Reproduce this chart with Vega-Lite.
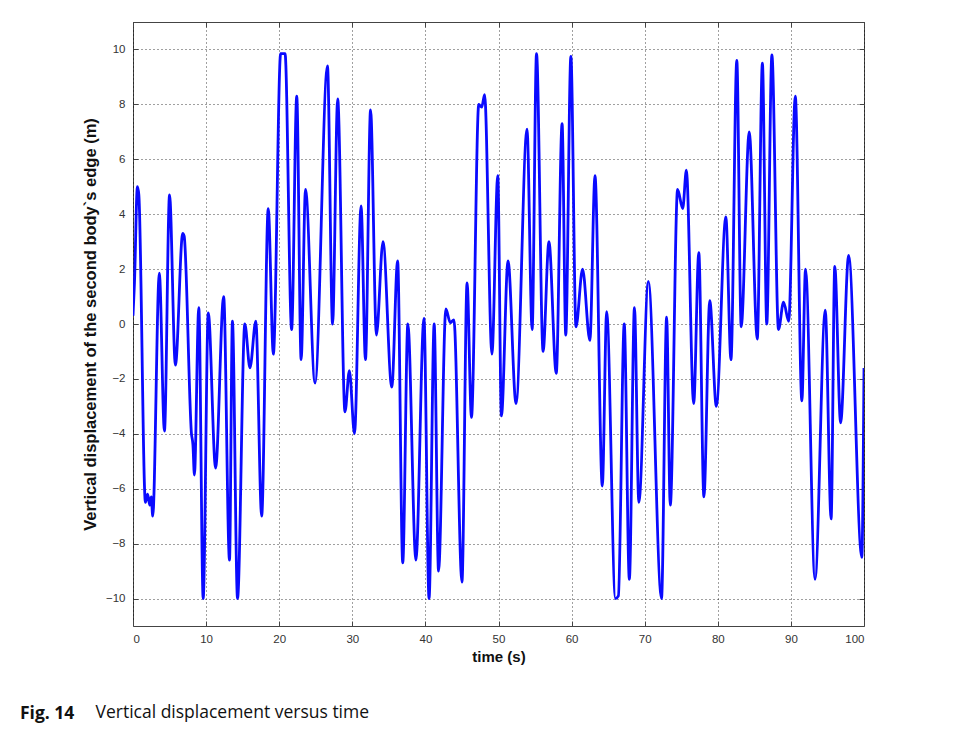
{
  "$schema": "https://vega.github.io/schema/vega-lite/v6.json",
  "autosize": {"type": "none"},
  "width": 731,
  "height": 604,
  "padding": {"left": 133, "top": 22, "right": 97, "bottom": 109},
  "background": "white",
  "config": {
    "view": {"stroke": "#444444", "strokeWidth": 1},
    "font": "Liberation Sans",
    "axis": {
      "domain": false,
      "tickColor": "#444444",
      "tickSize": -5,
      "labelFont": "Liberation Sans",
      "labelFontSize": 11.5,
      "labelColor": "#333333",
      "titleFont": "Liberation Sans",
      "titleColor": "#111111",
      "titleFontWeight": "bold",
      "gridColor": "#000000",
      "gridDash": [1, 3],
      "gridOpacity": 0.75,
      "gridWidth": 1
    }
  },
  "title": {
    "text": "Fig. 14",
    "orient": "bottom",
    "anchor": "start",
    "frame": "group",
    "dx": -113,
    "offset": -16,
    "font": "Open Sans",
    "fontSize": 17.5,
    "fontWeight": "bold",
    "color": "#111111"
  },
  "data": {
    "values": [
      {"t": 0, "v": 0.3}, {"t": 0.2, "v": 1.5}, {"t": 0.6, "v": 5.0}, {"t": 0.8, "v": 4.7},
      {"t": 1.7, "v": -6.5}, {"t": 2.0, "v": -6.2}, {"t": 2.3, "v": -6.6}, {"t": 2.5, "v": -6.3}, {"t": 2.7, "v": -7.0},
      {"t": 3.6, "v": 1.85}, {"t": 4.3, "v": -3.9}, {"t": 5.0, "v": 4.7}, {"t": 5.8, "v": -1.5},
      {"t": 6.8, "v": 3.3}, {"t": 7.0, "v": 3.2}, {"t": 8.0, "v": -4.0}, {"t": 8.2, "v": -4.4}, {"t": 8.4, "v": -5.5},
      {"t": 9.0, "v": 0.6}, {"t": 9.6, "v": -10}, {"t": 10.3, "v": 0.4}, {"t": 11.3, "v": -5.25},
      {"t": 12.4, "v": 1.0}, {"t": 13.2, "v": -8.6}, {"t": 13.6, "v": 0.1}, {"t": 14.3, "v": -10},
      {"t": 15.3, "v": 0.0}, {"t": 16.0, "v": -1.6}, {"t": 16.8, "v": 0.1}, {"t": 17.6, "v": -7.0},
      {"t": 18.5, "v": 4.2}, {"t": 19.2, "v": -1.1}, {"t": 20.2, "v": 9.85}, {"t": 20.8, "v": 9.85},
      {"t": 21.7, "v": -0.2}, {"t": 22.4, "v": 8.3}, {"t": 23.0, "v": -1.3}, {"t": 23.6, "v": 4.9},
      {"t": 24.9, "v": -2.15}, {"t": 26.6, "v": 9.4}, {"t": 27.3, "v": 0.0}, {"t": 28.0, "v": 8.2},
      {"t": 29.0, "v": -3.2}, {"t": 29.6, "v": -1.7}, {"t": 30.3, "v": -4.0}, {"t": 31.2, "v": 4.3},
      {"t": 31.8, "v": -1.3}, {"t": 32.5, "v": 7.8}, {"t": 33.3, "v": -0.4}, {"t": 34.2, "v": 3.0},
      {"t": 35.4, "v": -2.3}, {"t": 36.2, "v": 2.3}, {"t": 36.9, "v": -8.7}, {"t": 37.6, "v": 0.0},
      {"t": 38.7, "v": -8.6}, {"t": 39.8, "v": 0.2}, {"t": 40.5, "v": -10}, {"t": 41.2, "v": 0.0},
      {"t": 41.8, "v": -9.0}, {"t": 42.8, "v": 0.55}, {"t": 43.4, "v": 0.05}, {"t": 43.9, "v": 0.15},
      {"t": 45.0, "v": -9.4}, {"t": 45.7, "v": 1.5}, {"t": 46.3, "v": -3.4}, {"t": 47.3, "v": 8.0},
      {"t": 47.7, "v": 7.9}, {"t": 48.1, "v": 8.35}, {"t": 49.1, "v": -1.1}, {"t": 49.9, "v": 5.4},
      {"t": 50.4, "v": -3.35}, {"t": 51.3, "v": 2.3}, {"t": 52.4, "v": -2.9}, {"t": 53.9, "v": 7.1},
      {"t": 54.6, "v": -0.2}, {"t": 55.2, "v": 9.85}, {"t": 56.1, "v": -1.0}, {"t": 56.9, "v": 3.0},
      {"t": 57.9, "v": -1.8}, {"t": 58.7, "v": 7.3}, {"t": 59.2, "v": -0.4}, {"t": 59.9, "v": 9.75},
      {"t": 60.6, "v": -0.1}, {"t": 61.5, "v": 2.0}, {"t": 62.5, "v": -0.6}, {"t": 63.2, "v": 5.4},
      {"t": 64.2, "v": -5.9}, {"t": 64.8, "v": 0.45}, {"t": 66.0, "v": -10}, {"t": 66.4, "v": -9.9},
      {"t": 67.2, "v": 0.0}, {"t": 67.9, "v": -9.3}, {"t": 68.6, "v": 0.6}, {"t": 69.2, "v": -6.5},
      {"t": 70.5, "v": 1.55}, {"t": 72.3, "v": -10}, {"t": 73.0, "v": 0.25}, {"t": 73.5, "v": -6.6},
      {"t": 74.5, "v": 4.9}, {"t": 75.2, "v": 4.2}, {"t": 75.7, "v": 5.6}, {"t": 76.7, "v": -2.9},
      {"t": 77.4, "v": 2.6}, {"t": 78.1, "v": -6.3}, {"t": 78.9, "v": 0.85}, {"t": 79.8, "v": -3.0},
      {"t": 81.1, "v": 3.9}, {"t": 81.8, "v": -1.3}, {"t": 82.6, "v": 9.6}, {"t": 83.2, "v": -0.1},
      {"t": 84.3, "v": 7.0}, {"t": 85.4, "v": -0.55}, {"t": 86.1, "v": 9.5}, {"t": 86.7, "v": 0.0},
      {"t": 87.4, "v": 9.8}, {"t": 88.3, "v": -0.2}, {"t": 89.0, "v": 0.8}, {"t": 89.7, "v": 0.1},
      {"t": 90.6, "v": 8.3}, {"t": 91.5, "v": -2.8}, {"t": 92.0, "v": 2.0}, {"t": 93.3, "v": -9.3},
      {"t": 94.7, "v": 0.5}, {"t": 95.5, "v": -7.1}, {"t": 96.0, "v": 2.1}, {"t": 96.8, "v": -3.6},
      {"t": 97.9, "v": 2.5}, {"t": 99.7, "v": -8.5}, {"t": 100, "v": -1.6}
    ]
  },
  "layer": [
    {
      "mark": {"type": "line", "color": "#0a0aff", "strokeWidth": 2.8, "interpolate": "monotone", "clip": true},
      "encoding": {
        "x": {
          "field": "t", "type": "quantitative",
          "scale": {"domain": [0, 100], "nice": false, "zero": false},
          "axis": {"title": "time (s)", "titleFontSize": 15, "values": [0,10,20,30,40,50,60,70,80,90,100], "labelPadding": 12, "titlePadding": 5, "grid": true}
        },
        "y": {
          "field": "v", "type": "quantitative",
          "scale": {"domain": [-11, 11], "nice": false, "zero": false},
          "axis": {"title": "Vertical displacement of the second body`s edge (m)", "titleFontSize": 16.5, "values": [-10,-8,-6,-4,-2,0,2,4,6,8,10], "labelPadding": 13, "titlePadding": 7, "grid": true}
        }
      }
    },
    {
      "mark": {"type": "line", "opacity": 0},
      "encoding": {
        "x": {
          "field": "t", "type": "quantitative",
          "scale": {"domain": [0, 100], "nice": false, "zero": false},
          "axis": {"orient": "top", "title": null, "labels": false, "grid": false, "values": [0,10,20,30,40,50,60,70,80,90,100]}
        },
        "y": {
          "field": "v", "type": "quantitative",
          "scale": {"domain": [-11, 11], "nice": false, "zero": false},
          "axis": {
            "orient": "right", "labels": false, "grid": false, "values": [-10,-8,-6,-4,-2,0,2,4,6,8,10],
            "title": "Vertical displacement versus time",
            "titleAngle": 0, "titleX": -769, "titleY": 695,
            "titleAlign": "left", "titleBaseline": "alphabetic",
            "titleFont": "Open Sans", "titleFontSize": 17.5, "titleFontWeight": "normal", "titleColor": "#111111"
          }
        }
      }
    }
  ],
  "resolve": {"axis": {"x": "independent", "y": "independent"}}
}
